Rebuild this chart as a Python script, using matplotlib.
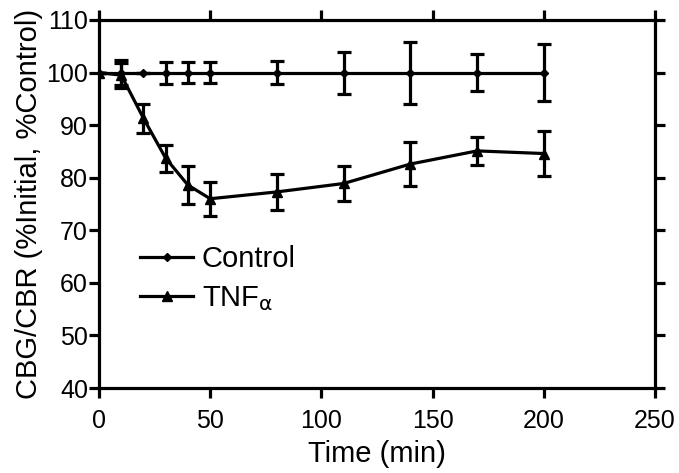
import numpy as np
import matplotlib.pyplot as plt

plt.rcParams['font.family'] = ['Liberation Sans', 'DejaVu Sans']

# time points (min)
time = [0, 10, 20, 30, 40, 50, 80, 110, 140, 170, 200]

# Control series
ctrl = [100, 100, 100, 100, 100, 100, 100, 100, 100, 100, 100]
ctrl_err = [0, 2.4, 0, 2.1, 2.0, 2.0, 2.2, 4.0, 5.9, 3.6, 5.4]

# TNF-alpha series
tnf = [100, 99.5, 91.3, 83.7, 78.6, 76.0, 77.3, 78.9, 82.6, 85.1, 84.6]
tnf_err = [0, 2.4, 2.7, 2.6, 3.6, 3.2, 3.5, 3.3, 4.1, 2.6, 4.3]

xticks = [0, 50, 100, 150, 200, 250]
yticks = [40, 50, 60, 70, 80, 90, 100, 110]

fig = plt.figure(figsize=(6.79, 4.73), dpi=100)
ax = fig.add_axes([99 / 679, 85 / 473, 556 / 679, 368 / 473])

lw = 2.3
c1 = ax.errorbar(time, ctrl, yerr=ctrl_err, color='black', lw=lw, marker='D', ms=4,
                 capsize=5, capthick=lw, elinewidth=lw)
c2 = ax.errorbar(time, tnf, yerr=tnf_err, color='black', lw=lw, marker='^', ms=7,
                 capsize=5, capthick=lw, elinewidth=lw)

ax.set_xlim(0, 250)
ax.set_ylim(40, 110)
ax.set_xticks(xticks)
ax.set_yticks(yticks)

for s in ax.spines.values():
    s.set_linewidth(lw)
ax.tick_params(direction='out', length=7, width=lw, labelsize=18,
               top=True, right=True)
ax.tick_params(axis='x', pad=8)
ax.tick_params(axis='y', pad=1)

ax.set_xlabel('Time (min)', fontsize=21, labelpad=5)
ax.set_ylabel('CBG/CBR (%Initial, %Control)', fontsize=21, labelpad=2)

ax.legend([c1[0], c2[0]], ['Control', r'TNF$_\mathrm{\alpha}$'],
          loc='upper left', bbox_to_anchor=(0.027, 0.46), frameon=False,
          fontsize=21, handlelength=1.8, handletextpad=0.3,
          labelspacing=0.4)

fig.savefig('out.png', dpi=100)
